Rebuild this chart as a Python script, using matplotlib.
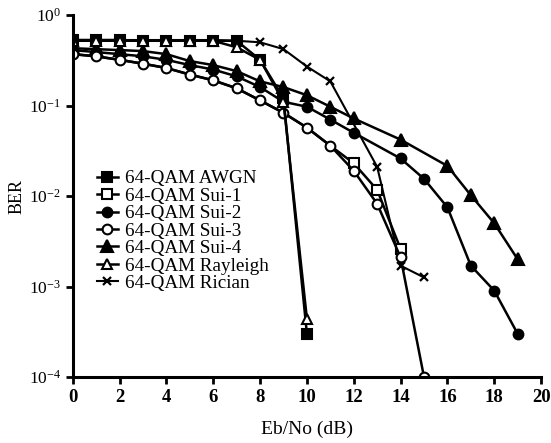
import math
import matplotlib
matplotlib.use("Agg")
import matplotlib.pyplot as plt
from matplotlib.ticker import FixedLocator, FuncFormatter
from matplotlib.lines import Line2D

plt.rcParams['font.family'] = ['Liberation Serif', 'DejaVu Serif']
plt.rcParams['mathtext.fontset'] = 'custom'
plt.rcParams['mathtext.rm'] = 'Liberation Serif'
plt.rcParams['mathtext.bf'] = 'Liberation Serif:bold'

# Data (Eb/No in dB, BER)
x_awgn = [0, 1, 2, 3, 4, 5, 6, 7, 8, 9, 10]
ber_awgn = [0.53, 0.53, 0.53, 0.52, 0.52, 0.52, 0.52, 0.52, 0.32, 0.12, 3.0e-4]

x_sui1 = [0, 1, 2, 3, 4, 5, 6, 7, 8, 9, 10, 11, 12, 13, 14]
ber_sui1 = [0.37, 0.35, 0.32, 0.29, 0.26, 0.22, 0.19, 0.155, 0.114, 0.083, 0.057, 0.036,
            0.023, 0.0117, 2.6e-3]

x_sui2 = [0, 1, 2, 3, 4, 5, 6, 7, 8, 9, 10, 11, 12, 14, 15, 16, 17, 18, 19]
ber_sui2 = [0.41, 0.39, 0.37, 0.35, 0.32, 0.28, 0.25, 0.21, 0.16, 0.11, 0.097, 0.07, 0.05,
            0.026, 0.0155, 7.5e-3, 1.7e-3, 9.0e-4, 3.0e-4]

x_sui3 = [0, 1, 2, 3, 4, 5, 6, 7, 8, 9, 10, 11, 12, 13, 14, 15]
ber_sui3 = [0.37, 0.35, 0.32, 0.29, 0.26, 0.22, 0.19, 0.155, 0.114, 0.083, 0.057, 0.036,
            0.019, 8.2e-3, 2.1e-3, 1.0e-4]

x_sui4 = [0, 1, 2, 3, 4, 5, 6, 7, 8, 9, 10, 11, 12, 14, 16, 17, 18, 19]
ber_sui4 = [0.43, 0.42, 0.41, 0.40, 0.37, 0.31, 0.28, 0.24, 0.185, 0.16, 0.13, 0.097, 0.072,
            0.042, 0.0215, 0.0102, 5.0e-3, 2.0e-3]

x_rayleigh = [0, 1, 2, 3, 4, 5, 6, 7, 8, 9, 10]
ber_rayleigh = [0.52, 0.52, 0.52, 0.52, 0.52, 0.52, 0.52, 0.44, 0.32, 0.11, 4.4e-4]

x_rician = [0, 1, 2, 3, 4, 5, 6, 7, 8, 9, 10, 11, 13, 14, 15]
ber_rician = [0.53, 0.53, 0.53, 0.53, 0.53, 0.53, 0.53, 0.52, 0.50, 0.42, 0.27, 0.185,
              0.021, 1.7e-3, 1.26e-3]

labels = ['64-QAM AWGN', '64-QAM Sui-1', '64-QAM Sui-2', '64-QAM Sui-3',
          '64-QAM Sui-4', '64-QAM Rayleigh', '64-QAM Rician']
x_ticks = [0, 2, 4, 6, 8, 10, 12, 14, 16, 18, 20]
y_ticks = [1e-4, 1e-3, 1e-2, 1e-1, 1e0]

fig = plt.figure(figsize=(5.51, 4.43), dpi=100)
ax = fig.add_axes([0.132, 0.149, 0.850, 0.817])

lw = 1.8
series = [
    (x_awgn, ber_awgn, dict(marker='s', mfc='black', ms=7, zorder=2.2)),
    (x_sui1, ber_sui1, dict(marker='s', mfc='white', ms=7, zorder=2.0,
                            markevery=slice(12, None))),
    (x_sui2, ber_sui2, dict(marker='o', mfc='black', ms=7, zorder=2.1)),
    (x_sui3, ber_sui3, dict(marker='o', mfc='white', ms=7, zorder=2.15)),
    (x_sui4, ber_sui4, dict(marker='^', mfc='black', ms=8, zorder=2.05)),
    (x_rayleigh, ber_rayleigh, dict(marker='^', mfc='white', ms=6.5, zorder=2.3)),
    (x_rician, ber_rician, dict(marker='x', mfc='black', ms=5.5, mew=1.6, lw=1.5,
                                zorder=1.9)),
]
handles = []
for (xs, ys, st), lab in zip(series, labels):
    kw = dict(color='black', lw=lw, mec='black', mew=1.5)
    kw.update(st)
    h, = ax.plot(xs, ys, label=lab, **kw)
    handles.append(h)

ax.set_yscale('log')
ax.set_xlim(0, 20)
ax.set_ylim(1e-4, 1)
ax.xaxis.set_major_locator(FixedLocator(x_ticks))
ax.yaxis.set_major_locator(FixedLocator(y_ticks))
ax.yaxis.set_minor_locator(FixedLocator([]))
ax.yaxis.set_major_formatter(FuncFormatter(
    lambda v, p: r'$\mathregular{10^{%d}}$' % round(math.log10(v))))

for s in ['top', 'right']:
    ax.spines[s].set_visible(False)
for s in ['left', 'bottom']:
    ax.spines[s].set_linewidth(2.2)
ax.tick_params(axis='both', direction='out', width=2, length=5)
ax.tick_params(axis='x', labelsize=13.5)
ax.tick_params(axis='y', labelsize=12.5)
for t in ax.get_xticklabels():
    t.set_fontweight('bold')

ax.set_xlabel('Eb/No (dB)', fontsize=14, labelpad=11)
ax.set_ylabel('BER', fontsize=13, labelpad=2)

leg_handles = []
for h in handles:
    leg_handles.append(Line2D([], [], color='black', lw=h.get_linewidth(),
                              marker=h.get_marker(), mfc=h.get_markerfacecolor(),
                              mec='black', ms=h.get_markersize(), mew=h.get_markeredgewidth()))
leg = ax.legend(leg_handles, labels, loc='upper left', bbox_to_anchor=(0.035, 0.593),
                frameon=False, fontsize=13.8, handlelength=1.1, handletextpad=0.35,
                labelspacing=0.0, borderaxespad=0)

fig.savefig('out.png', dpi=100)
